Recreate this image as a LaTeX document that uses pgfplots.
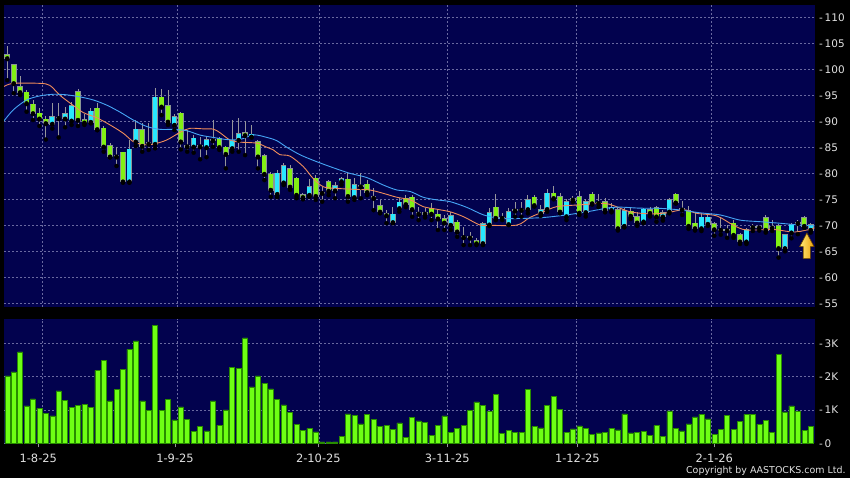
\documentclass[border=0pt]{standalone}
\usepackage{fontspec}
\setmainfont{DejaVu Sans}
\usepackage{pgfplots}
\usepackage{pgfplotstable}
\pgfplotsset{compat=1.18}

\definecolor{bgnavy}{RGB}{2,2,78}
\definecolor{gridc}{RGB}{105,105,160}
\definecolor{upc}{RGB}{40,232,255}
\definecolor{dnc}{RGB}{130,240,20}
\definecolor{edgec}{RGB}{140,150,150}
\definecolor{wickc}{RGB}{150,150,155}
\definecolor{volc}{RGB}{110,255,20}
\definecolor{voledge}{RGB}{40,140,0}
\definecolor{mashort}{RGB}{240,140,90}
\definecolor{malong}{RGB}{70,165,245}
\definecolor{txt}{RGB}{225,225,225}

% down days (green): i, body bottom (close), body top (open), high, low
\pgfplotstableread{
i bot top h l
0 102.1 102.75 104.5 97.9
1 97.3 100.8 101.1 95.4
2 95.57 96.65 98.7 95.05
3 93.45 95.57 96.0 91.85
4 91.53 93.26 94.1 90.25
5 90.5 91.53 92.5 89.1
6 89.6 90.4 91.0 86.5
8 90.6 90.75 93.45 86.9
11 90.25 95.7 96.14 89.1
12 89.73 90.25 91.5 89.3
14 88.45 92.5 93.45 88.3
15 85.1 88.64 89.1 84.16
16 83.2 85.25 85.76 83.07
17 83.2 83.35 85.1 81.4
18 78.4 84.03 84.16 78.2
21 85.25 88.32 89.73 84.16
22 85.65 85.8 89.73 84.5
24 92.8 94.6 96.14 91.2
25 89.9 93.0 96.0 89.3
27 86.08 91.53 91.85 84.6
28 85.15 85.3 88.3 84.16
30 85.15 85.3 87.0 82.7
32 86.3 86.45 90.25 85.1
33 85.0 86.7 87.0 84.5
34 83.7 85.0 85.25 80.95
37 87.3 87.8 90.1 83.5
39 83.2 86.08 86.4 80.95
40 79.86 83.3 83.8 78.7
41 76.8 79.8 80.3 75.5
44 77.4 80.83 81.6 76.8
45 75.83 79.03 79.35 75.2
46 75.38 75.83 76.3 75.0
48 75.6 79.03 79.67 74.9
49 76.2 76.35 77.4 74.55
50 76.6 78.4 78.7 75.8
53 75.6 78.84 80.0 74.55
55 77.43 77.68 80.0 75.2
56 76.34 77.9 78.7 75.8
57 75.25 75.5 77.1 72.9
58 72.6 73.7 74.9 72.3
59 71.9 72.17 72.9 70.4
62 74.03 75.2 75.8 73.5
63 73.07 75.38 75.8 71.65
64 72.2 72.35 73.6 71.0
65 72.2 72.35 73.3 71.5
66 72.2 73.26 74.2 71.0
67 71.28 72.1 72.9 69.1
68 70.5 71.28 72.0 69.1
70 68.78 70.57 71.0 67.8
71 67.7 67.85 69.7 66.2
72 67.6 67.75 68.8 66.2
73 66.5 67.05 67.5 66.2
76 71.4 73.45 76.0 71.0
77 71.4 71.55 72.3 71.0
79 72.8 72.95 74.55 71.65
80 72.95 73.1 74.55 71.65
82 73.84 75.38 75.8 73.6
85 75.2 76.15 77.6 75.0
86 72.6 75.5 76.3 72.3
88 74.9 75.05 75.6 74.5
89 72.4 75.5 76.6 72.0
91 74.2 75.95 76.4 74.0
92 74.25 74.4 76.0 73.5
93 72.95 74.5 75.3 72.5
95 69.4 72.95 73.5 69.0
97 71.8 72.7 73.5 71.2
98 70.5 71.66 72.6 69.9
100 72.35 73.0 73.6 71.7
101 71.66 73.3 73.7 70.7
104 74.35 75.95 76.2 74.2
105 73.0 73.15 74.7 72.0
106 69.86 72.75 73.7 69.3
107 69.4 70.37 72.6 69.0
110 69.2 70.25 70.6 68.0
111 69.1 69.25 71.6 68.2
112 69.0 69.15 70.0 67.6
113 68.13 70.37 71.0 67.6
114 66.85 68.13 68.6 66.4
116 69.6 69.75 70.2 68.9
117 69.55 69.7 70.1 69.0
118 69.1 71.46 72.0 68.6
119 69.5 69.65 71.0 68.9
120 65.57 69.86 70.2 63.8
123 70.4 70.55 71.0 68.3
124 69.86 71.46 71.7 69.5
}\downtab

% up days (cyan): i, body bottom (open), body top (close), high, low
\pgfplotstableread{
i bot top h l
7 89.5 90.9 93.6 88.6
9 90.5 91.4 92.8 88.85
10 90.1 92.94 93.77 89.3
13 89.86 91.9 92.5 89.6
19 78.4 84.6 86.4 78.2
20 86.08 88.45 90.25 85.25
23 85.63 94.6 96.33 84.8
26 89.3 90.9 91.5 88.3
29 85.1 86.7 87.4 83.97
31 85.0 86.5 87.0 83.1
35 84.8 86.27 90.25 84.16
36 86.4 87.55 90.57 84.16
38 87.0 87.5 89.3 87.0
42 76.0 80.0 80.6 75.4
43 78.2 81.47 81.9 77.75
47 75.83 77.43 79.0 75.5
51 76.66 77.6 78.4 75.2
52 78.45 78.97 79.35 77.75
54 75.38 77.75 79.03 74.9
60 70.57 72.1 73.6 70.4
61 73.26 74.4 75.2 72.6
69 70.06 71.85 72.6 69.1
74 66.53 70.25 70.7 66.2
75 70.12 72.43 73.26 69.86
78 70.19 72.6 73.26 70.06
81 73.07 74.87 75.8 72.3
83 72.3 73.0 74.0 71.8
84 73.1 76.15 77.0 72.6
87 71.7 74.5 75.0 71.0
90 72.5 74.5 75.0 71.7
94 72.9 73.3 74.2 72.5
96 69.86 72.8 73.3 69.6
99 70.7 73.07 73.4 70.4
102 71.66 72.4 73.0 70.9
103 72.6 74.86 75.2 72.3
108 69.4 71.53 72.3 68.9
109 70.25 71.53 72.4 69.9
115 66.85 69.1 69.4 66.4
121 65.57 68.13 68.4 65.0
122 68.58 70.05 70.5 67.5
125 69.1 70.05 70.5 68.6
}\uptab

% daily volume, thousands
\pgfplotstableread{
i v
0 2.02
1 2.14
2 2.74
3 1.12
4 1.33
5 1.05
6 0.90
7 0.82
8 1.57
9 1.29
10 1.07
11 1.13
12 1.16
13 1.07
14 2.19
15 2.48
16 1.27
17 1.62
18 2.22
19 2.82
20 3.07
21 1.27
22 0.98
23 3.54
24 0.98
25 1.32
26 0.70
27 1.09
28 0.72
29 0.36
30 0.51
31 0.37
32 1.27
33 0.54
34 1.00
35 2.28
36 2.25
37 3.16
38 1.69
39 2.02
40 1.80
41 1.63
42 1.32
43 1.15
44 0.92
45 0.57
46 0.39
47 0.45
48 0.34
49 0.04
50 0.04
51 0.04
52 0.20
53 0.88
54 0.84
55 0.58
56 0.87
57 0.72
58 0.50
59 0.53
60 0.42
61 0.61
62 0.17
63 0.78
64 0.67
65 0.62
66 0.24
67 0.53
68 0.82
69 0.32
70 0.44
71 0.53
72 0.98
73 1.24
74 1.14
75 0.96
76 1.46
77 0.30
78 0.38
79 0.33
80 0.33
81 1.62
82 0.50
83 0.46
84 1.14
85 1.40
86 1.02
87 0.33
88 0.43
89 0.52
90 0.45
91 0.26
92 0.31
93 0.33
94 0.45
95 0.40
96 0.88
97 0.31
98 0.32
99 0.35
100 0.24
101 0.53
102 0.21
103 0.97
104 0.45
105 0.37
106 0.58
107 0.79
108 0.87
109 0.73
110 0.26
111 0.41
112 0.83
113 0.41
114 0.65
115 0.87
116 0.87
117 0.57
118 0.69
119 0.32
120 2.67
121 0.94
122 1.12
123 0.95
124 0.38
125 0.50
}\voltab

\pgfplotsset{
  panel/.style={
    scale only axis, width=811bp,
    xmin=-0.51, xmax=125.67,
    axis background/.style={fill=bgnavy},
    axis line style={draw=none},
    major grid style={draw=gridc, dash pattern=on 2bp off 2bp, line width=0.6bp},
    ymajorgrids=true,
    ytick pos=right, yticklabel pos=right,
    y tick style={draw=none},
    yticklabel style={anchor=west, inner sep=0pt, xshift=4bp, text=txt,
      font=\fontsize{10.5}{12}\selectfont},
    extra x ticks={5.45,26.45,48.55,68.46,88.6,109.6},
    extra x tick labels={},
    extra x tick style={xmajorgrids=true, major tick length=0pt},
  },
  candle/.style={only marks, mark=none, forget plot,
    error bars/.cd, y dir=plus, y explicit, error mark=none},
}

\begin{document}
\begin{tikzpicture}
\fill[black] (0,0) rectangle (850bp,478bp);
\path[use as bounding box] (0,0) rectangle (850bp,478bp);

% price panel
\begin{axis}[panel,
  at={(4bp,171.3bp)}, anchor=south west, height=301.7bp,
  ymin=54.35, ymax=112.37,
  xtick=\empty,
  ytick={55,60,65,70,75,80,85,90,95,100,105,110},
  yticklabels={-\,55,-\,60,-\,65,-\,70,-\,75,-\,80,-\,85,-\,90,-\,95,-\,100,-\,105,-\,110},
]
% wicks
\addplot[candle, error bar style={line width=0.9bp, draw=wickc}]
  table[x=i, y=l, y error expr=\thisrow{h}-\thisrow{l}] {\downtab};
\addplot[candle, error bar style={line width=0.9bp, draw=wickc}]
  table[x=i, y=l, y error expr=\thisrow{h}-\thisrow{l}] {\uptab};
% body outlines
\addplot[candle, error bar style={line width=5.6bp, draw=edgec}]
  table[x=i, y expr=\thisrow{bot}-0.13, y error expr=\thisrow{top}-\thisrow{bot}+0.26] {\downtab};
\addplot[candle, error bar style={line width=5.6bp, draw=edgec}]
  table[x=i, y expr=\thisrow{bot}-0.13, y error expr=\thisrow{top}-\thisrow{bot}+0.26] {\uptab};
% bodies
\addplot[candle, error bar style={line width=4.2bp, draw=dnc}]
  table[x=i, y=bot, y error expr=\thisrow{top}-\thisrow{bot}] {\downtab};
\addplot[candle, error bar style={line width=4.2bp, draw=upc}]
  table[x=i, y=bot, y error expr=\thisrow{top}-\thisrow{bot}] {\uptab};

% short moving average
\addplot[mashort, line width=0.9bp, smooth, mark=none] coordinates {
(-0.5,96.7) (0.93,97.3) (5.09,97.3) (6.64,96.9) (8.2,95.0) (10.0,93.3) (11.8,91.7)
(13.9,90.7) (16.0,89.3) (18.05,87.7) (19.6,86.1) (21.2,85.5) (22.7,85.6) (24.8,86.4)
(26.9,87.9) (28.4,88.65) (30.5,88.55) (32.05,88.5) (33.1,87.8) (34.65,86.4) (36.2,86.0)
(38.8,85.8) (40.4,85.0) (41.4,84.5) (42.4,83.6) (44.0,83.3) (46.05,81.3) (47.6,79.0)
(49.2,77.4) (51.25,77.1) (54.4,76.9) (56.4,76.8) (58.5,76.15) (60.6,75.4) (62.7,74.9)
(64.7,73.6) (66.8,73.1) (68.9,72.6) (71.0,71.65) (73.55,70.05) (75.1,70.0) (79.3,70.05)
(81.3,71.5) (83.4,72.6) (85.5,73.6) (88.6,73.9) (92.7,74.2) (94.3,73.8) (96.9,72.6)
(100.0,72.2) (102.6,72.4) (105.2,73.0) (107.3,72.3) (110.4,71.8) (113.0,70.0) (115.0,69.1)
(119.2,69.2) (122.3,68.7) (124.4,69.1) (125.6,69.5)
};
% long moving average
\addplot[malong, line width=0.9bp, smooth, mark=none] coordinates {
(-0.5,90.1) (0.93,92.2) (3.0,94.1) (5.1,94.9) (7.2,95.2) (9.2,95.1) (11.3,94.7)
(13.4,94.1) (15.5,93.1) (17.5,91.8) (19.6,90.25) (21.7,89.0) (23.8,88.45) (25.8,88.45)
(27.9,88.2) (30.0,87.35) (32.05,86.9) (34.1,86.5) (36.2,86.5) (38.3,87.4) (40.4,86.9)
(41.9,86.3) (43.5,85.0) (45.5,83.6) (47.6,82.5) (50.2,81.3) (53.3,80.0) (55.9,79.2)
(58.5,77.75) (60.6,76.8) (62.7,76.5) (64.7,75.4) (66.8,74.9) (68.9,74.55) (71.5,73.45)
(74.1,72.0) (76.6,71.35) (79.3,71.3) (83.4,71.5) (87.0,72.0) (90.2,72.6) (93.3,73.3)
(95.3,73.5) (98.4,73.3) (101.6,73.26) (104.7,72.95) (107.8,72.4) (110.9,72.0) (114.0,71.0)
(117.1,70.7) (120.2,70.4) (123.3,70.05) (125.6,69.9)
};

% yellow arrow marker
\filldraw[shift={(axis cs:124.4,63.6)}, draw={rgb,255:red,110;green,70;blue,0},
  line width=0.6bp, left color={rgb,255:red,255;green,235;blue,120},
  right color={rgb,255:red,235;green,160;blue,10}]
  (-3.6bp,0bp) -- (3.6bp,0bp) -- (3.6bp,12bp) -- (7.2bp,12bp) -- (0bp,25.5bp)
  -- (-7.2bp,12bp) -- (-3.6bp,12bp) -- cycle;
\end{axis}

% volume panel
\begin{axis}[panel,
  at={(4bp,34.7bp)}, anchor=south west, height=124.3bp,
  ymin=0, ymax=3.73,
  ytick={0,1,2,3},
  yticklabels={-\,0,-\,1K,-\,2K,-\,3K},
  xtick={4.82,26.1,48.4,68.46,88.7,110},
  xticklabels={1-8-25,1-9-25,2-10-25,3-11-25,1-12-25,2-1-26},
  xtick pos=bottom, xtick align=outside,
  x tick style={draw=wickc, line width=0.8bp},
  major tick length=4bp,
  xticklabel style={anchor=north, inner sep=0pt, yshift=-6bp, text=txt,
    font=\fontsize{11.5}{13}\selectfont},
]
\addplot[ybar, bar width=5.0bp, fill=volc, draw=voledge, line width=0.5bp]
  table[x=i, y=v] {\voltab};
\end{axis}

\node[anchor=base east, text=txt, inner sep=0pt,
  font=\fontsize{9.5}{11}\selectfont] at (845.7bp,4.4bp) {Copyright by AASTOCKS.com Ltd.};
\end{tikzpicture}
\end{document}
